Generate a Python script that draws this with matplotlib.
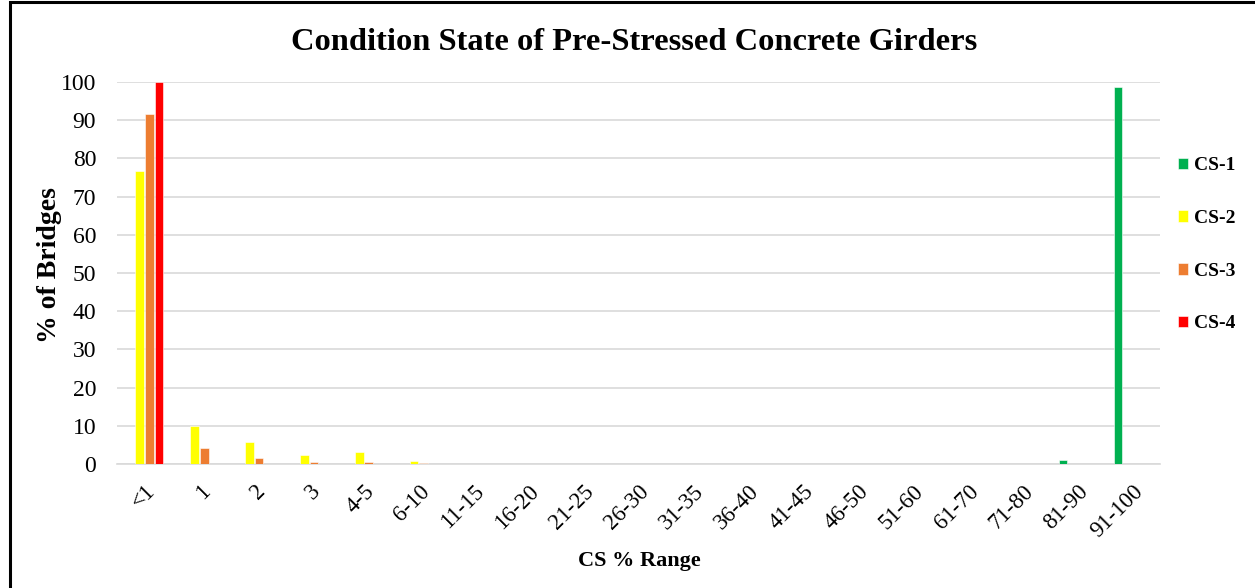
import matplotlib
matplotlib.use("Agg")
import matplotlib.pyplot as plt
import numpy as np
from matplotlib.patches import Rectangle

categories = ["<1", "1", "2", "3", "4-5", "6-10", "11-15", "16-20", "21-25", "26-30",
              "31-35", "36-40", "41-45", "46-50", "51-60", "61-70", "71-80", "81-90", "91-100"]
cs1 = [0, 0, 0, 0, 0, 0, 0, 0, 0, 0, 0, 0, 0, 0, 0, 0, 0, 1.0, 98.6]
cs2 = [76.7, 10.0, 5.8, 2.3, 3.1, 0.9, 0, 0, 0, 0, 0, 0, 0, 0, 0, 0, 0, 0, 0]
cs3 = [91.7, 4.1, 1.7, 0.5, 0.6, 0.35, 0, 0, 0, 0, 0, 0, 0, 0, 0, 0, 0, 0, 0]
cs4 = [100, 0, 0, 0, 0, 0, 0, 0, 0, 0, 0, 0, 0, 0, 0, 0, 0, 0, 0]
series_names = ["CS-1", "CS-2", "CS-3", "CS-4"]
colors = ["#00B050", "#FFFF00", "#ED7D31", "#FF0000"]

plt.rcParams['font.family'] = ['Liberation Serif', 'DejaVu Serif']

fig = plt.figure(figsize=(12.55, 5.88), dpi=100)
ax = fig.add_axes([117/1255, 1 - 464/588, (1160 - 117)/1255, (464 - 82)/588])

x = np.arange(len(categories))
pitch = 0.177
width = 0.16
for i, (vals, name, c) in enumerate(zip([cs1, cs2, cs3, cs4], series_names, colors)):
    ax.bar(x + (i - 1.5) * pitch, vals, width=width, color=c, label=name,
           edgecolor='white', linewidth=0.4, zorder=3)

ax.set_xlim(-0.5, len(categories) - 0.5)
ax.set_ylim(0, 100)
ax.set_yticks(np.arange(0, 101, 10))
ax.tick_params(axis='y', length=0, labelsize=17, pad=15)
ax.tick_params(axis='x', length=0, labelsize=16.5, pad=12)
ax.set_xticks(x)
ax.set_xticklabels(categories, rotation=45, ha='right', rotation_mode='anchor')
ax.grid(axis='y', color='#d9d9d9', linewidth=1.2, zorder=0)
for s in ['top', 'right', 'left']:
    ax.spines[s].set_visible(False)
ax.spines['bottom'].set_color('#d9d9d9')
ax.spines['bottom'].set_linewidth(1.2)

fig.text(50/1255, 1 - 265/588, "% of Bridges", fontsize=20, fontweight='bold',
         rotation=90, ha='center', va='center')
fig.text(639/1255, 1 - 561/588, "CS % Range", fontsize=16, fontweight='bold',
         ha='center', va='center')
fig.text(634/1255, 1 - 42/588, "Condition State of Pre-Stressed Concrete Girders",
         fontsize=23.4, fontweight='bold', ha='center', va='center')

leg = fig.legend(loc='upper left', bbox_to_anchor=(1160/1255, 1 - 140/588),
                 frameon=False, handlelength=0.55, handleheight=0.55,
                 handletextpad=0.3, labelspacing=1.83, prop={'weight': 'bold', 'size': 14})

fig.patches.append(Rectangle((10/1255, -0.05), 1.1, 1 - 2/588 + 0.05,
                             transform=fig.transFigure, fill=False,
                             edgecolor='black', linewidth=2.2))

fig.savefig("out.png", dpi=100)
